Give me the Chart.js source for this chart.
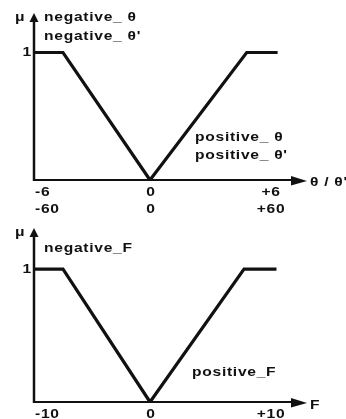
<!DOCTYPE html>
<html>
<head>
<meta charset="utf-8">
<script src="https://cdn.jsdelivr.net/npm/chart.js@4/dist/chart.umd.min.js"></script>
<style>
  html, body { margin: 0; padding: 0; background: #fff; }
  #wrap { position: relative; width: 346px; height: 419px; }
  canvas { position: absolute; left: 0; }
  #thetaChart { top: 0; }
  #forceChart { top: 215px; }
</style>
</head>
<body>
<div id="wrap">
  <canvas id="thetaChart" width="346" height="215"></canvas>
  <canvas id="forceChart" width="346" height="204"></canvas>
</div>
<script>
// Membership functions for the angle / angular velocity input
const thetaNegX  = [-6, -4.5, 0];
const thetaNegMu = [1, 1, 0];
const thetaPosX  = [0, 5, 6.6];
const thetaPosMu = [0, 1, 1];
const thetaTicks = [-6, 0, 6];
const thetaTickLabels = [['-6', '-60'], ['0', '0'], ['+6', '+60']];
const thetaNames = { neg: ['negative_ θ', 'negative_ θ\''], pos: ['positive_ θ', 'positive_ θ\''] };
const thetaAxisName = 'θ / θ\'';

// Membership functions for the output force
const forceNegX  = [-10, -7.5, 0];
const forceNegMu = [1, 1, 0];
const forcePosX  = [0, 8.1, 10.9];
const forcePosMu = [0, 1, 1];
const forceTicks = [-10, 0, 10];
const forceTickLabels = [['-10'], ['0'], ['+10']];
const forceNames = { neg: ['negative_F'], pos: ['positive_F'] };
const forceAxisName = 'F';

const muLabel = 'μ';
const muTick = 1;

const INK = '#111';
const FONT = 'bold 13px "Liberation Sans", Arial, sans-serif';
const STRETCH = 1.2;     // wide bold lettering
const SPACING = '0.6px';

function toPoints(xs, ys) {
  return xs.map((x, i) => ({ x: x, y: ys[i] }));
}

// Horizontally stretched text with a chosen alignment
function label(ctx, s, x, y, align) {
  const w = ctx.measureText(s).width * STRETCH;
  let left = x;
  if (align === 'center') left = x - w / 2;
  else if (align === 'right') left = x - w;
  ctx.save();
  ctx.translate(left, y);
  ctx.scale(STRETCH, 1);
  ctx.textAlign = 'left';
  ctx.fillText(s, 0, 0);
  ctx.restore();
}

// Draws the arrowed axes, tick labels and set names through the chart's scales
function makeDecor(cfg) {
  return {
    id: 'decor',
    beforeDatasetsDraw(chart) {
      const ctx = chart.ctx;
      const xs = chart.scales.x, ys = chart.scales.y;
      const x0 = xs.getPixelForValue(xs.min);
      const xEnd = xs.getPixelForValue(xs.max);
      const y0 = ys.getPixelForValue(0);
      const yEnd = ys.getPixelForValue(ys.max);
      ctx.save();
      ctx.strokeStyle = INK;
      ctx.fillStyle = INK;
      // y axis
      ctx.lineWidth = 2.5;
      ctx.beginPath();
      ctx.moveTo(x0, y0 + 1);
      ctx.lineTo(x0, yEnd + 6);
      ctx.stroke();
      ctx.beginPath();
      ctx.moveTo(x0, yEnd);
      ctx.lineTo(x0 - 4.5, yEnd + 9);
      ctx.lineTo(x0 + 4.5, yEnd + 9);
      ctx.closePath();
      ctx.fill();
      // x axis
      ctx.lineWidth = 2;
      ctx.beginPath();
      ctx.moveTo(x0, y0);
      ctx.lineTo(xEnd - 8, y0);
      ctx.stroke();
      ctx.beginPath();
      ctx.moveTo(xEnd, y0 + 1);
      ctx.lineTo(xEnd - 16, y0 - 4);
      ctx.lineTo(xEnd - 16, y0 + 5.5);
      ctx.closePath();
      ctx.fill();
      ctx.restore();
    },
    afterDraw(chart) {
      const ctx = chart.ctx;
      const xs = chart.scales.x, ys = chart.scales.y;
      const x0 = xs.getPixelForValue(xs.min);
      const xEnd = xs.getPixelForValue(xs.max);
      const y0 = ys.getPixelForValue(0);
      const yEnd = ys.getPixelForValue(ys.max);
      ctx.save();
      ctx.fillStyle = INK;
      ctx.font = FONT;
      ctx.letterSpacing = SPACING;
      ctx.textBaseline = 'middle';
      // mu label and the "1" tick
      label(ctx, muLabel, x0 - 19, yEnd + 4, 'left');
      label(ctx, String(muTick), x0 - 2, ys.getPixelForValue(muTick), 'right');
      // x tick labels
      cfg.ticks.forEach((t, i) => {
        const px = xs.getPixelForValue(t);
        const align = i === 0 ? 'left' : 'center';
        const dx = i === 0 ? 1 : (i === cfg.ticks.length - 1 ? 5 : 1);
        cfg.tickLabels[i].forEach((s, r) => {
          label(ctx, s, px + dx, y0 + 12 + r * 17, align);
        });
      });
      // axis name
      label(ctx, cfg.axisName, xEnd + 3, y0 + cfg.axisNameDy, 'left');
      // set names
      cfg.negLines.forEach((s, r) => {
        label(ctx, s, x0 + 10, yEnd + cfg.negDy + r * 19, 'left');
      });
      cfg.posLines.forEach((s, r) => {
        label(ctx, s, cfg.posX, y0 + cfg.posDy + r * 18, 'left');
      });
      ctx.restore();
    }
  };
}

function makeChart(id, negX, negMu, posX, posMu, xMin, xMax, pad, cfg) {
  return new Chart(document.getElementById(id), {
    type: 'scatter',
    data: {
      datasets: [
        { data: toPoints(negX, negMu), showLine: true, borderColor: INK, borderWidth: 3.2,
          pointRadius: 0, tension: 0, clip: false, borderJoinStyle: 'miter' },
        { data: toPoints(posX, posMu), showLine: true, borderColor: INK, borderWidth: 3.2,
          pointRadius: 0, tension: 0, clip: false, borderJoinStyle: 'miter' }
      ]
    },
    options: {
      responsive: false,
      animation: false,
      devicePixelRatio: 1,
      layout: { padding: pad },
      plugins: { legend: { display: false }, tooltip: { enabled: false } },
      scales: {
        x: { type: 'linear', min: xMin, max: xMax, display: false },
        y: { type: 'linear', min: 0, max: 1.31, display: false }
      }
    },
    plugins: [makeDecor(cfg)]
  });
}

makeChart('thetaChart', thetaNegX, thetaNegMu, thetaPosX, thetaPosMu, -6, 8.12,
  { left: 34, right: 39, top: 13, bottom: 35 },
  { ticks: thetaTicks, tickLabels: thetaTickLabels, axisName: thetaAxisName, axisNameDy: 2,
    negLines: thetaNames.neg, negDy: 4, posLines: thetaNames.pos, posX: 195, posDy: -43 });

makeChart('forceChart', forceNegX, forceNegMu, forcePosX, forcePosMu, -10, 13.53,
  { left: 34, right: 39, top: 13, bottom: 17 },
  { ticks: forceTicks, tickLabels: forceTickLabels, axisName: forceAxisName, axisNameDy: 3,
    negLines: forceNames.neg, negDy: 20, posLines: forceNames.pos, posX: 192, posDy: -30 });
</script>
</body>
</html>
